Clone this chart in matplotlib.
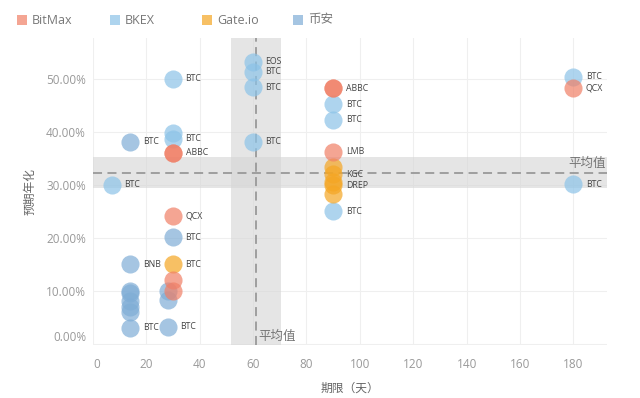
import matplotlib
matplotlib.use("Agg")
import matplotlib.pyplot as plt
from matplotlib.patches import Rectangle
from matplotlib.ticker import FuncFormatter

plt.rcParams['font.family'] = ['Open Sans', 'Noto Sans CJK SC', 'DejaVu Sans']

# exchanges and colours
exchanges = ['BitMax', 'BKEX', 'Gate.io', '币安']
colors = {'BitMax': '#f07f66', 'BKEX': '#8cc3e8', 'Gate.io': '#f5a623', '币安': '#7fadd6'}

# term (days), expected annual yield (%), coin label
# (some points repeated where the dots overlap)
bitmax_days = [30, 30, 30, 30, 30, 90, 90, 90, 180]
bitmax_yield = [36.0, 36.0, 24.1, 12.0, 10.0, 48.2, 48.2, 36.2, 48.2]
bitmax_coin = ['ABBC', '', 'QCX', '', '', 'ABBC', '', 'LMB', 'QCX']

bkex_days = [60, 60, 60, 30, 30, 30, 60, 7, 90, 90, 90, 180, 180]
bkex_yield = [53.2, 51.3, 48.4, 50.0, 39.7, 38.7, 38.1, 30.0, 45.2, 42.3, 25.0, 50.4, 30.1]
bkex_coin = ['EOS', 'BTC', 'BTC', 'BTC', '', 'BTC', 'BTC', 'BTC', 'BTC', 'BTC', 'BTC', 'BTC', 'BTC']

gate_days = [30, 90, 90, 90, 90, 90]
gate_yield = [15.0, 33.4, 32.0, 30.6, 29.9, 28.2]
gate_coin = ['BTC', '', 'KGC', '', 'DREP', '']

binance_days = [14, 30, 14, 14, 14, 14, 14, 14, 14, 28, 28, 28]
binance_yield = [38.1, 20.1, 15.0, 10.0, 9.6, 8.0, 7.0, 6.0, 3.0, 10.0, 8.2, 3.2]
binance_coin = ['BTC', 'BTC', 'BNB', '', '', '', '', '', 'BTC', '', '', 'BTC']

# averages and their bands
avg_days = 61.2
band_days = (51.6, 70.4)
avg_yield = 32.3
band_yield = (29.3, 35.3)

series = {
    'BitMax': (bitmax_days, bitmax_yield, bitmax_coin),
    'BKEX': (bkex_days, bkex_yield, bkex_coin),
    'Gate.io': (gate_days, gate_yield, gate_coin),
    '币安': (binance_days, binance_yield, binance_coin),
}

fig = plt.figure(figsize=(6.4, 3.98), dpi=100)
ax = fig.add_axes([93 / 640, 1 - 345 / 398, 514 / 640, 307 / 398])

ax.axvspan(*band_days, color='#d5d5d5', alpha=0.6, lw=0, zorder=1)
ax.axhspan(*band_yield, color='#d5d5d5', alpha=0.6, lw=0, zorder=1)
ax.axvline(avg_days, color='#999999', lw=1.3, dashes=(5, 3), zorder=2)
ax.axhline(avg_yield, color='#999999', lw=1.3, dashes=(5, 3), zorder=2)

for name in ['BKEX', '币安', 'Gate.io', 'BitMax']:
    xs, ys, labs = series[name]
    ax.scatter(xs, ys, s=170, color=colors[name], alpha=0.7, lw=0, zorder=3)
    for x, y, lab in zip(xs, ys, labs):
        if lab:
            ax.annotate(lab, (x, y), xytext=(9, 0), textcoords='offset points',
                        fontsize=6.3, color='#444444', va='center', zorder=4)

ax.text(avg_days + 0.8, 1.3, '平均值', fontsize=9, color='#777777', va='center', zorder=4)
ax.text(192, 34.1, '平均值', fontsize=9, color='#777777', va='center', ha='right', zorder=4)

ax.set_xlim(0, 192.6)
ax.set_ylim(-0.25, 57.7)
ax.set_xticks(range(0, 181, 20))
ax.set_yticks(range(0, 51, 10))
ax.yaxis.set_major_formatter(FuncFormatter(lambda v, p: f'{v:.2f}%'))
ax.grid(True, color='#efefef', lw=0.8, zorder=0)
ax.set_axisbelow(True)
for sp in ax.spines.values():
    sp.set_visible(False)
ax.tick_params(length=0, labelsize=8.5, labelcolor='#999999')
ax.tick_params(axis='x', pad=9)
ax.tick_params(axis='y', pad=5)
# edge labels pushed inside, as in the original
ax.get_yticklabels()[0].set_verticalalignment('bottom')
ax.get_xticklabels()[0].set_horizontalalignment('left')

ax.set_xlabel('期限（天）', fontsize=8.5, color='#666666', labelpad=8)
ax.set_ylabel('预期年化', fontsize=8.5, color='#666666', labelpad=7)

# legend across the top
leg_x = [17, 110, 202, 293]
for name, lx in zip(exchanges, leg_x):
    fig.patches.append(Rectangle((lx / 640, 1 - 25 / 398), 10 / 640, 10 / 398,
                                 transform=fig.transFigure, color=colors[name], alpha=0.7, lw=0))
    fig.text((lx + 15) / 640, 1 - 20 / 398, name, fontsize=9, color='#777777', va='center')

fig.savefig('out.png', dpi=100, facecolor='white')
